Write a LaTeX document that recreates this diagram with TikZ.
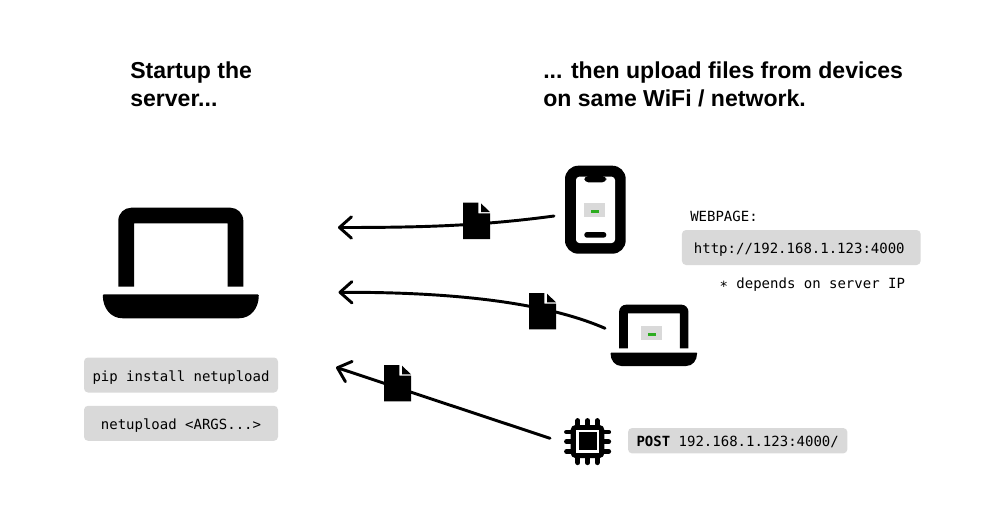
\documentclass[tikz,border=0pt]{standalone}
\usepackage{fontspec}
\setmainfont{Liberation Sans}
\setmonofont{DejaVu Sans Mono}
\definecolor{BoxGrey}{RGB}{217, 217, 217}
\definecolor{ScreenGreen}{RGB}{44, 172, 32}
\usetikzlibrary{arrows.meta}
\begin{document}
\begin{tikzpicture}[x=0.75pt, y=-0.75pt,
  head/.style={font=\fontsize{17.3}{21}\selectfont\bfseries, anchor=north west, align=left, inner sep=0pt},
  cmd/.style={fill=BoxGrey, rounded corners=3pt, font=\ttfamily\fontsize{10.5}{12}\selectfont, inner sep=0pt, minimum height=26.25pt, text height=9pt, text depth=0pt},
  note/.style={font=\ttfamily\fontsize{10.5}{12}\selectfont, anchor=west, inner sep=0pt},
  arr/.style={{Straight Barb[length=9pt, width=16pt, round]}-, line width=2.2pt, line cap=round},
  pin/.style={line width=3.6pt, line cap=round},
  laptop/.pic={
    \fill (-62.5,-7.6) -- (-62.5,-73.6) .. controls (-62.5,-81) and (-56.5,-86.6) .. (-49.5,-86.6) -- (49.5,-86.6) .. controls (56.5,-86.6) and (62.5,-81) .. (62.5,-73.6) -- (62.5,-7.6) -- (46.8,-7.6) -- (46.8,-71) -- (-46.8,-71) -- (-46.8,-7.6) -- cycle;
    \fill (-78,1) .. controls (-78,0.4) and (-77.6,0) .. (-77,0) -- (77,0) .. controls (77.6,0) and (78,0.4) .. (78,1) .. controls (78,14) and (70,24) .. (58,24) -- (-58,24) .. controls (-70,24) and (-78,14) .. (-78,1) -- cycle;},
  screen/.pic={
    \fill[BoxGrey] (-10.5,-7) rectangle (10.5,7);
    \fill[ScreenGreen] (-4,0) rectangle (4,2.7);},
  file/.pic={
    \fill (0,0) -- (15.3,0) -- (15.3,10.7) -- (27,10.7) -- (27,36.3) -- (0,36.3) -- cycle;
    \fill (18,0.7) -- (27,9.3) -- (18,9.3) -- cycle;}]
\useasboundingbox (0,0) rectangle (1003,522);
\node[head] (title1) at (130,61.5) {Startup the\\server...};
\node[head] (title2) at (543,61.5) {... then upload files from devices\\on same WiFi / network.};
\pic (server) at (180.8,294.3) {laptop};
\node[cmd, minimum width=145.5pt] (pip) at (181,375) {pip install netupload};
\node[cmd, minimum width=145.5pt] (run) at (181,423.3) {netupload <ARGS...>};
% phone
\fill[rounded corners=10pt] (565,165.7) rectangle (625.7,253.7);
\fill[white, rounded corners=2.5pt] (576,176.7) rectangle (615,243);
\fill[rounded corners=3pt] (584.3,176) rectangle (606.3,182.3);
\fill[rounded corners=2pt] (584.3,232) rectangle (606.3,237.7);
\pic (phonescreen) at (594.5,210) {screen};
% small laptop
\pic[scale=0.555] (client) at (653.8,352.7) {laptop};
\pic (clientscreen) at (651.5,333) {screen};
% chip
\foreach \p in {-9.7,0,9.7} {
  \draw[pin] (587.5+\p,420.5) -- (587.5+\p,430);
  \draw[pin] (587.5+\p,453) -- (587.5+\p,462.7);
  \draw[pin] (566.5,441.7+\p) -- (576,441.7+\p);
  \draw[pin] (599,441.7+\p) -- (608.7,441.7+\p);
}
\fill[rounded corners=3.5pt] (570.7,425) rectangle (604.3,458);
\fill[white] (576,430) rectangle (599,452.7);
\fill (578.5,432.4) rectangle (596.5,450.2);
\coordinate (srvphone) at (338,227.5);
\coordinate (srvlaptop) at (338.5,292.3);
\coordinate (srvchip) at (336,367.3);
\coordinate (phoneout) at (554,216);
\coordinate (laptopout) at (605,328.3);
\coordinate (chipout) at (550,438.3);
\draw[arr] (srvphone) .. controls (420,227.5) and (480,226) .. (phoneout);
\draw[arr] (srvlaptop) .. controls (440,292) and (540,300) .. (laptopout);
\draw[arr] (srvchip) -- (chipout);
\pic (file1) at (463,202.7) {file};
\pic (file2) at (529,293) {file};
\pic (file3) at (384,365) {file};
\node[note] (weblabel) at (690,216) {WEBPAGE:};
\node[cmd, minimum width=179pt] (url) at (801.3,247.5) {http://192.168.1.123:4000\hspace*{3pt}};
\node[note] (ipnote) at (719.3,285) {\raisebox{-1.8pt}{*} depends on server IP};
\node[cmd, minimum width=164.5pt, minimum height=19pt] (post) at (737.7,440.7) {\textbf{POST} 192.168.1.123:4000/};
\end{tikzpicture}
\end{document}
